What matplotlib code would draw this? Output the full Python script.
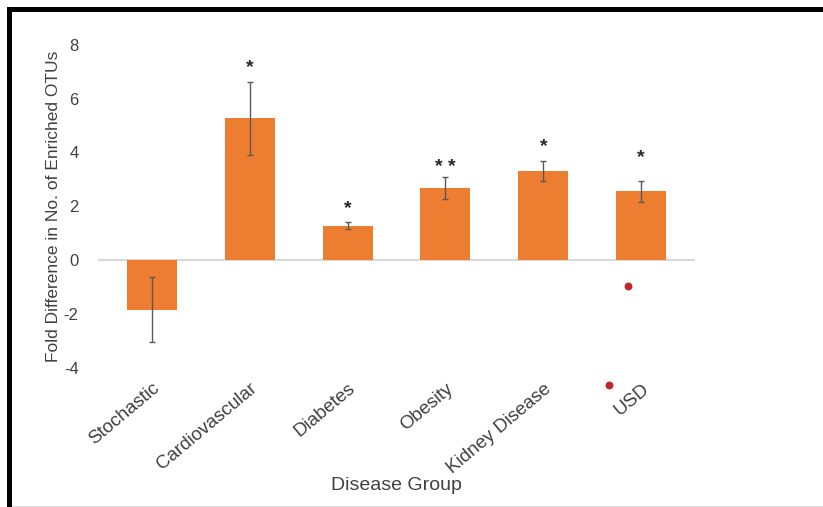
import matplotlib
matplotlib.use("Agg")
import matplotlib.pyplot as plt
from matplotlib.patches import Rectangle

plt.rcParams['font.family'] = ['Liberation Sans', 'DejaVu Sans']
plt.rcParams['axes.unicode_minus'] = False

# Data
groups = ['Stochastic', 'Cardiovascular', 'Diabetes', 'Obesity', 'Kidney Disease', 'USD']
fold_diff = [-1.85, 5.28, 1.28, 2.68, 3.31, 2.56]
errors = [1.21, 1.36, 0.13, 0.41, 0.36, 0.39]
stars = ['', '*', '*', '* *', '*', '*']
star_y = [None, 7.15, 1.93, 3.43, 4.21, 3.82]

# stray red dots seen in the picture (x position in bar units, y value)
red_x = [4.87, 4.67]
red_y = [-0.97, -4.65]

W, H = 823, 507
fig = plt.figure(figsize=(W / 100, H / 100), dpi=100)
ax = fig.add_axes([98 / W, 1 - 367.5 / H, (695 - 98) / W, (367.5 - 45) / H])

x = list(range(len(groups)))
ax.bar(x, fold_diff, width=0.51, color='#ED7D31', zorder=2)
ax.errorbar(x, fold_diff, yerr=errors, fmt='none', ecolor='#595959',
            elinewidth=1, capsize=2.5, capthick=1, zorder=3)

for xi, s, sy in zip(x, stars, star_y):
    if s:
        ax.text(xi, sy, s, ha='center', va='center', fontsize=14,
                fontweight='bold', color='#262626')

ax.scatter(red_x, red_y, s=22, color='#C0272D', zorder=4, clip_on=False)

ax.axhline(0, color='#D9D9D9', lw=1.5, zorder=1)
ax.set_xlim(-0.55, 5.55)
ax.set_ylim(-4, 8)
ax.set_yticks([-4, -2, 0, 2, 4, 6, 8])
ax.set_xticks(x)
ax.set_xticklabels(groups, rotation=40, ha='right', rotation_mode='anchor',
                   fontsize=13.5, color='#404040')
ax.tick_params(axis='y', labelsize=12, labelcolor='#404040', length=0, pad=14)
ax.tick_params(axis='x', length=0, pad=9)
for sp in ax.spines.values():
    sp.set_visible(False)

ax.set_ylabel('Fold Difference in No. of Enriched OTUs', fontsize=12.5,
              color='#404040', labelpad=2)
ax.set_xlabel('Disease Group', fontsize=14, color='#404040')
ax.xaxis.set_label_coords(0.5, -(477 - 367.5) / (367.5 - 45))

# black frame on top and left, faint line at bottom
fig.add_artist(Rectangle((7 / W, 1 - 12 / H), 1, 5 / H, transform=fig.transFigure,
                         color='black', lw=0))
fig.add_artist(Rectangle((7 / W, 0), 5 / W, 1 - 7 / H, transform=fig.transFigure,
                         color='black', lw=0))
fig.add_artist(Rectangle((12 / W, 0), 1, 1.5 / H, transform=fig.transFigure,
                         color='#E0E0E0', lw=0))

fig.savefig('out.png', dpi=100)
